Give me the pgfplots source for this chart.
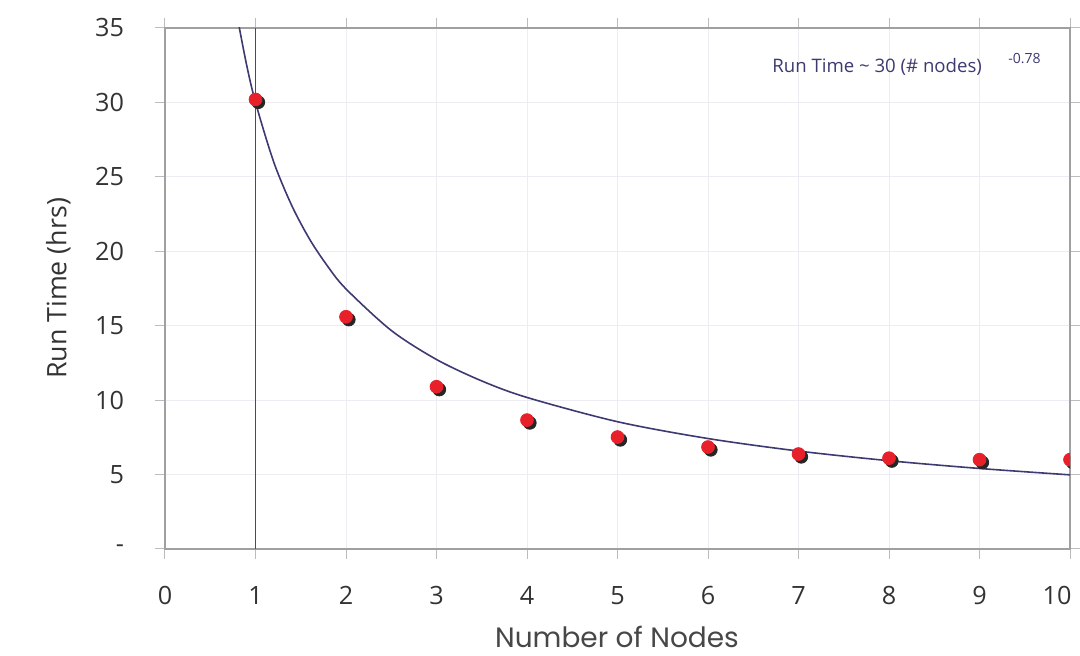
\documentclass[border=0pt]{standalone}
\usepackage{pgfplots}
\pgfplotsset{compat=1.18}
\usepackage{fontspec}
\setmainfont{Open Sans}
\newfontfamily\geo{Poppins}
\definecolor{navy}{HTML}{3C3A70}
\definecolor{dotred}{HTML}{E8202A}
\definecolor{txt}{HTML}{333333}
\definecolor{axgray}{HTML}{A0A0A0}
\definecolor{gridc}{HTML}{ECECF2}
\begin{document}
\begin{tikzpicture}
\begin{axis}[
  scale only axis,
  width=452.5pt, height=260.5pt,
  xmin=0, xmax=10, ymin=0, ymax=35,
  xtick={0,1,...,10},
  xticklabels={0,1,2,3,4,5,6,7,8,9,\hspace*{-13pt}10},
  ytick={0,5,...,35},
  yticklabels={-,5,10,15,20,25,30,35},
  /pgf/number format/assume math mode=true,
  tick align=outside,
  major tick length=5pt,
  tick style={axgray!70, line width=0.5pt},
  axis line style={axgray, line width=1.1pt},
  grid=major,
  grid style={gridc, line width=0.5pt},
  ticklabel style={font=\fontsize{12.6}{14}\selectfont, text=txt},
  xticklabel style={yshift=-10pt},
  yticklabel style={xshift=-12pt},
  xlabel={\geo Number of Nodes},
  ylabel={Run Time (hrs)},
  xlabel style={font=\fontsize{14}{16}\selectfont, text=txt!90, inner sep=0pt, at={(axis description cs:0.4994,-0.19)}, anchor=base},
  ylabel style={font=\fontsize{13.4}{15}\selectfont, text=txt, at={(axis description cs:-0.118,0.5)}, anchor=center},
  clip=true,
]
\draw[black!70, line width=0.6pt] (axis cs:1,0) -- (axis cs:1,35);
\addplot[navy, line width=0.8pt, smooth, no marks] coordinates {
(0.8,35.70) (0.9,32.57) (1,30.00) (1.2,26.02) (1.4,23.08) (1.6,20.79)
(1.8,18.97) (2,17.47) (2.5,14.68) (3,12.73) (3.5,11.29) (4,10.18)
(5,8.55) (6,7.42) (7,6.58) (8,5.93) (9,5.41) (10,4.98)};
\addplot[only marks, mark=*, mark size=3.2pt, black!85, clip mode=individual,
  mark options={xshift=1.4pt, yshift=-1.4pt, draw=black!85, fill=black!85}] coordinates {
(1,30.2) (2,15.6) (3,10.9) (4,8.66) (5,7.52) (6,6.85) (7,6.38) (8,6.1) (9,6.0) (10,6.0)};
\addplot[only marks, mark=*, mark size=3.2pt, dotred, clip mode=individual,
  mark options={draw=dotred, fill=dotred}] coordinates {
(1,30.2) (2,15.6) (3,10.9) (4,8.66) (5,7.52) (6,6.85) (7,6.38) (8,6.1) (9,6.0) (10,6.0)};
\node[anchor=west, text=navy, font=\fontsize{9.3}{11}\selectfont, inner sep=0pt] at (axis cs:6.707,32.37) {Run Time \char`~{} 30 (\# nodes)};
\node[anchor=west, text=navy, font=\fontsize{7}{8}\selectfont, inner sep=0pt] at (axis cs:9.315,32.97) {-0.78};
\end{axis}
\pgfresetboundingbox
\path (-82.5pt,-53.5pt) rectangle (457.5pt,274.5pt);
\end{tikzpicture}
\end{document}
